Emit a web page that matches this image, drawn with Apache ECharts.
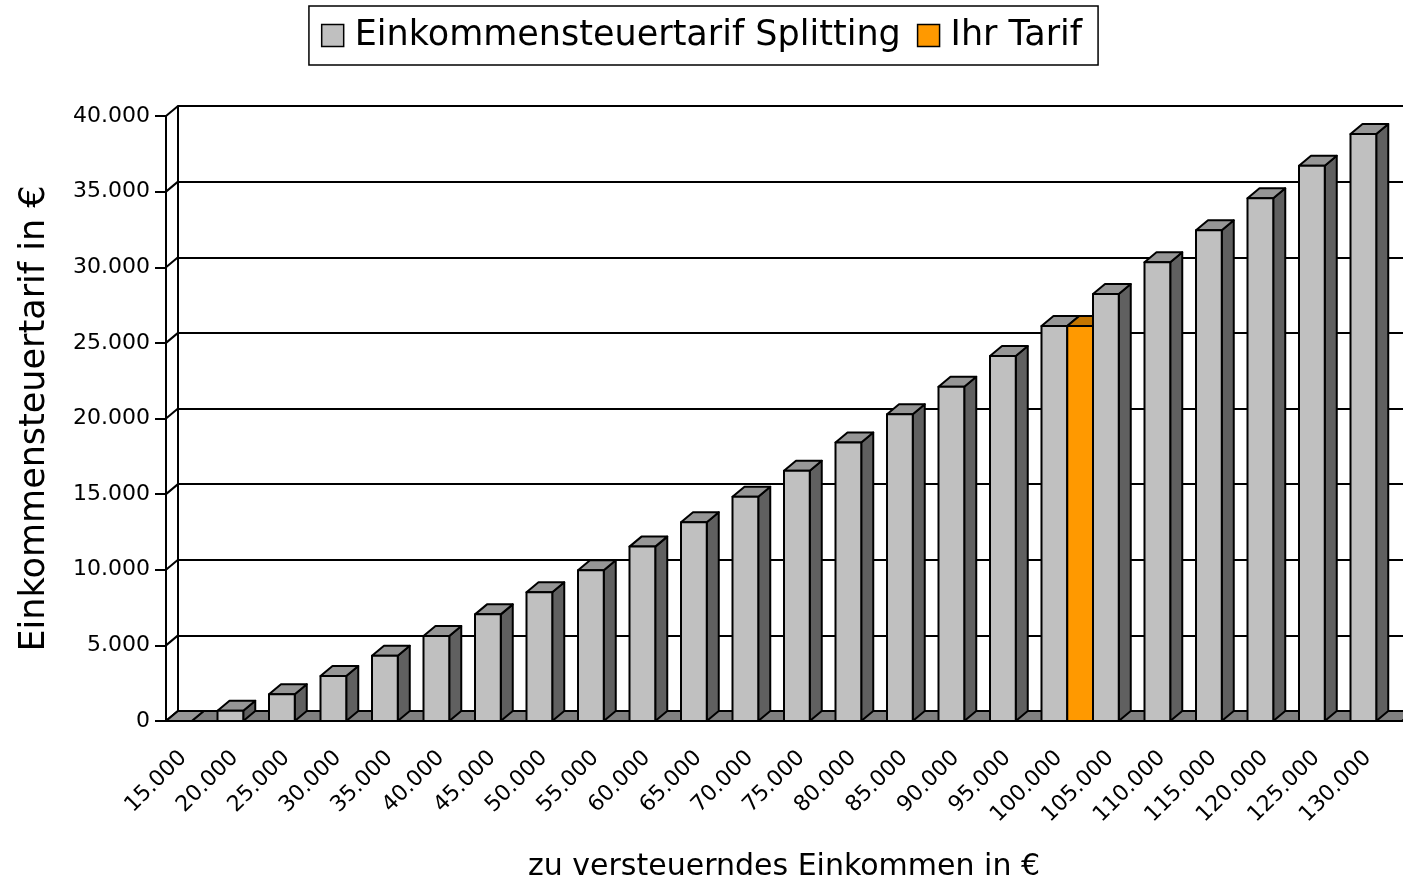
<!DOCTYPE html>
<html>
<head>
<meta charset="utf-8">
<script src="https://cdn.jsdelivr.net/npm/echarts@6/dist/echarts.min.js"></script>
<style>
  html, body { margin: 0; padding: 0; background: #fff; }
  #main { width: 1403px; height: 881px; }
</style>
</head>
<body>
<div id="main"></div>
<script>
// Daten
var incomes = ['15.000', '20.000', '25.000', '30.000', '35.000', '40.000', '45.000', '50.000',
  '55.000', '60.000', '65.000', '70.000', '75.000', '80.000', '85.000', '90.000', '95.000',
  '100.000', '105.000', '110.000', '115.000', '120.000', '125.000', '130.000']
var splitting = [0, 680, 1770, 2980, 4320, 5620, 7050, 8510, 9960, 11530, 13140, 14830,
  16550, 18420, 20280, 22100, 24130, 26110, 28230, 30330, 32440, 34560, 36710, 38810]
var ihrTarif = [null, null, null, null, null, null, null, null, null, null, null, null,
  null, null, null, null, null, 26110, null, null, null, null, null, null]
var yTicks = [0, 5000, 10000, 15000, 20000, 25000, 30000, 35000, 40000]

var FONT = 'DejaVu Sans'
var DX = 12
var DY = -10

function fmt (v) {
  return String(v).replace(/\B(?=(\d{3})+(?!\d))/g, '.')
}

// 3D-Säule: Vorderseite, Seite, Deckel
function barRenderer (slot, front, side, top) {
  return function (params, api) {
    var v = api.value(1)
    if (v == null || isNaN(v)) return
    var idx = api.value(0)
    var base = api.coord([idx, 0])
    var tp = api.coord([idx, v])
    var band = api.size([1, 0])[0]
    var w = band / 2
    var x0 = base[0] - band / 2 + slot * w
    var x1 = x0 + w
    var yb = base[1]
    var yt = tp[1]
    var z = idx * 2 + slot
    var st = { stroke: '#000', lineWidth: 2, lineJoin: 'round' }
    return {
      type: 'group',
      children: [
        { type: 'polygon', z2: z, shape: { points: [[x1, yb], [x1 + DX, yb + DY], [x1 + DX, yt + DY], [x1, yt]] },
          style: Object.assign({ fill: side }, st) },
        { type: 'polygon', z2: z, shape: { points: [[x0, yt], [x1, yt], [x1 + DX, yt + DY], [x0 + DX, yt + DY]] },
          style: Object.assign({ fill: top }, st) },
        { type: 'rect', z2: z, shape: { x: x0, y: yt, width: w, height: yb - yt },
          style: Object.assign({ fill: front }, st) }
      ]
    }
  }
}

// Boden und Verbindungslinien zur Rückwand
function decorRenderer (params, api) {
  var cs = params.coordSys
  var yb = cs.y + cs.height
  var children = [{
    type: 'polygon',
    shape: { points: [[cs.x, yb], [cs.x + cs.width, yb], [cs.x + cs.width + DX, yb + DY], [cs.x + DX, yb + DY]] },
    style: { fill: '#808080', stroke: '#000', lineWidth: 2 }
  }]
  yTicks.forEach(function (t) {
    var y = api.coord([0, t])[1]
    children.push({
      type: 'line',
      shape: { x1: cs.x, y1: y, x2: cs.x + DX, y2: y + DY },
      style: { stroke: '#000', lineWidth: 2 }
    })
  })
  return { type: 'group', children: children }
}

var myChart = echarts.init(document.getElementById('main'))

myChart.setOption({
  animation: false,
  textStyle: { fontFamily: FONT, color: '#000' },
  legend: {
    top: 6,
    left: 'center',
    padding: [12, 16, 12, 12],
    borderColor: '#000',
    borderWidth: 1.5,
    itemWidth: 22,
    itemHeight: 22,
    itemGap: 16,
    textStyle: { fontFamily: FONT, fontSize: 35, color: '#000', padding: [0, 0, 0, 6] },
    data: [
      { name: 'Einkommensteuertarif Splitting', icon: 'rect', itemStyle: { color: '#c0c0c0', borderColor: '#000', borderWidth: 1.5 } },
      { name: 'Ihr Tarif', icon: 'rect', itemStyle: { color: '#ff9900', borderColor: '#000', borderWidth: 1.5 } }
    ]
  },
  grid: [
    { left: 166, top: 116, right: 1, bottom: 160, outerBoundsMode: 'none' },
    { left: 166 + DX, top: 116 + DY, right: 1 - DX, bottom: 160 - DY, outerBoundsMode: 'none' }
  ],
  xAxis: [{
    type: 'category',
    gridIndex: 0,
    data: incomes,
    boundaryGap: true,
    name: 'zu versteuerndes Einkommen in €',
    nameLocation: 'middle',
    nameGap: 131,
    nameTextStyle: { fontFamily: FONT, fontSize: 30, color: '#000' },
    axisLine: { lineStyle: { color: '#000', width: 2 } },
    axisTick: { length: 10, lineStyle: { color: '#000', width: 2 }, interval: 0 },
    axisLabel: { rotate: 45, interval: 0, margin: 25, padding: [0, 12, 0, 0], fontSize: 22, color: '#000', fontFamily: FONT }
  }, {
    type: 'category',
    gridIndex: 1,
    data: incomes,
    show: false
  }],
  yAxis: [{
    type: 'value',
    gridIndex: 0,
    min: 0,
    max: 40000,
    interval: 5000,
    name: 'Einkommensteuertarif in €',
    nameLocation: 'middle',
    nameRotate: 90,
    nameGap: 114,
    nameTextStyle: { fontFamily: FONT, fontSize: 35, color: '#000' },
    axisLine: { show: true, lineStyle: { color: '#000', width: 2 } },
    axisTick: { show: true, length: 11, lineStyle: { color: '#000', width: 2 } },
    axisLabel: { margin: 16, fontSize: 22, color: '#000', fontFamily: FONT, formatter: fmt },
    splitLine: { show: false }
  }, {
    type: 'value',
    gridIndex: 1,
    min: 0,
    max: 40000,
    interval: 5000,
    axisLine: { show: true, lineStyle: { color: '#000', width: 2 } },
    axisTick: { show: false },
    axisLabel: { show: false },
    splitLine: { show: true, lineStyle: { color: '#000', width: 2 } }
  }],
  series: [{
    name: 'decor',
    type: 'custom',
    xAxisIndex: 0,
    yAxisIndex: 0,
    z: 1,
    silent: true,
    renderItem: decorRenderer,
    data: [[0, 0]],
    encode: { x: 0, y: 1 }
  }, {
    name: 'Einkommensteuertarif Splitting',
    type: 'custom',
    z: 2,
    itemStyle: { color: '#c0c0c0' },
    renderItem: barRenderer(0, '#c0c0c0', '#606060', '#969696'),
    data: splitting.map(function (v, i) { return [i, v] }),
    encode: { x: 0, y: 1 }
  }, {
    name: 'Ihr Tarif',
    type: 'custom',
    z: 2,
    itemStyle: { color: '#ff9900' },
    renderItem: barRenderer(1, '#ff9900', '#b36b00', '#c47500'),
    data: ihrTarif.map(function (v, i) { return [i, v] }),
    encode: { x: 0, y: 1 }
  }]
})
</script>
</body>
</html>
